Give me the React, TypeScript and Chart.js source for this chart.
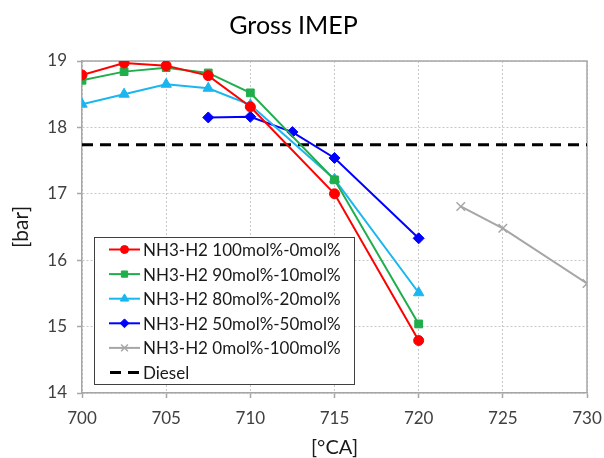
import { useEffect, useRef } from 'react';
import { Chart, registerables } from 'chart.js';
import { drawPoint } from 'chart.js/helpers';

Chart.register(...registerables);

const chartTitle = 'Gross IMEP';
const xAxisTitle = '[°CA]';
const yAxisTitle = '[bar]';
const xTickValues = [700, 705, 710, 715, 720, 725, 730];
const yTickValues = [14, 15, 16, 17, 18, 19];

const s1Label = 'NH3-H2 100mol%-0mol%';
const s1X = [700, 702.5, 705, 707.5, 710, 715, 720];
const s1Y = [18.79, 18.97, 18.93, 18.78, 18.31, 17.0, 14.79];

const s2Label = 'NH3-H2 90mol%-10mol%';
const s2X = [700, 702.5, 705, 707.5, 710, 715, 720];
const s2Y = [18.71, 18.84, 18.9, 18.82, 18.52, 17.21, 15.04];

const s3Label = 'NH3-H2 80mol%-20mol%';
const s3X = [700, 702.5, 705, 707.5, 710, 715, 720];
const s3Y = [18.35, 18.5, 18.65, 18.59, 18.34, 17.22, 15.51];

const s4Label = 'NH3-H2 50mol%-50mol%';
const s4X = [707.5, 710, 712.5, 715, 720];
const s4Y = [18.15, 18.16, 17.93, 17.54, 16.33];

const s5Label = 'NH3-H2 0mol%-100mol%';
const s5X = [722.5, 725, 730];
const s5Y = [16.81, 16.48, 15.65];

const dieselLabel = 'Diesel';
const dieselX = [700, 730];
const dieselY = [17.74, 17.74];

const FONT = 'Lato, "Open Sans", sans-serif';

const pts = (xs: number[], ys: number[]) => xs.map((x, i) => ({ x, y: ys[i] }));

const legendPlugin = {
  id: 'boxLegend',
  afterDatasetsDraw(chart: any) {
    const ctx = chart.ctx;
    const left = 94, top = 237, right = 354, bottom = 384;
    ctx.save();
    ctx.fillStyle = '#ffffff';
    ctx.fillRect(left, top, right - left, bottom - top);
    ctx.strokeStyle = '#404040';
    ctx.lineWidth = 1;
    ctx.strokeRect(left + 0.5, top + 0.5, right - left, bottom - top);
    const rowH = 24.6;
    const firstY = 249.5;
    chart.data.datasets.forEach((ds: any, i: number) => {
      const y = firstY + i * rowH;
      ctx.save();
      ctx.strokeStyle = ds.borderColor;
      ctx.lineWidth = ds.borderWidth;
      ctx.setLineDash(ds.borderDash || []);
      ctx.beginPath();
      ctx.moveTo(ds.borderDash ? 110 : 109, y);
      ctx.lineTo(140, y);
      ctx.stroke();
      ctx.restore();
      if (ds.pointRadius > 0) {
        ctx.save();
        ctx.fillStyle = ds.pointBackgroundColor;
        ctx.strokeStyle = ds.pointBorderColor;
        ctx.lineWidth = ds.pointBorderWidth;
        drawPoint(ctx, { pointStyle: ds.pointStyle, radius: ds.pointRadius * 0.8, borderWidth: ds.pointBorderWidth, rotation: 0 }, 124.5, y);
        ctx.restore();
      }
      ctx.fillStyle = '#1a1a1a';
      ctx.font = `17px ${FONT}`;
      ctx.textBaseline = 'middle';
      ctx.textAlign = 'left';
      ctx.fillText(ds.label, 143, y + 1);
    });
    ctx.restore();
  },
};

const framePlugin = {
  id: 'frame',
  beforeDatasetsDraw(chart: any) {
    const { ctx, chartArea } = chart;
    ctx.save();
    ctx.strokeStyle = '#a6a6a6';
    ctx.lineWidth = 1.5;
    ctx.beginPath();
    ctx.moveTo(chartArea.left, chartArea.top);
    ctx.lineTo(chartArea.right, chartArea.top);
    ctx.lineTo(chartArea.right, chartArea.bottom);
    ctx.stroke();
    ctx.restore();
  },
};

export default function App() {
  const ref = useRef<HTMLCanvasElement | null>(null);
  useEffect(() => {
    document.body.style.margin = '0';
    if (!ref.current) return;
    const line = (label: string, xs: number[], ys: number[], color: string, style: string, radius: number) => ({
      label,
      data: pts(xs, ys),
      borderColor: color,
      backgroundColor: color,
      borderWidth: 2,
      pointStyle: style,
      pointRadius: radius,
      pointBackgroundColor: color,
      pointBorderColor: color,
      pointBorderWidth: style === 'crossRot' ? 1.5 : 1,
      tension: 0,
    });
    const chart = new Chart(ref.current, {
      type: 'line',
      data: {
        datasets: [
          line(s1Label, s1X, s1Y, '#ff0000', 'circle', 5),
          line(s2Label, s2X, s2Y, '#1fae4b', 'rect', 5.5),
          line(s3Label, s3X, s3Y, '#1ab6f0', 'triangle', 6),
          line(s4Label, s4X, s4Y, '#0000ff', 'rectRot', 5.5),
          line(s5Label, s5X, s5Y, '#a6a6a6', 'crossRot', 6),
          {
            label: dieselLabel,
            data: pts(dieselX, dieselY),
            borderColor: '#000000',
            backgroundColor: '#000000',
            borderWidth: 3,
            borderDash: [11, 7],
            pointRadius: 0,
            pointStyle: 'line',
            pointBackgroundColor: '#000000',
            pointBorderColor: '#000000',
            pointBorderWidth: 0,
          } as any,
        ],
      },
      options: {
        animation: false,
        responsive: true,
        maintainAspectRatio: false,
        layout: { padding: { left: 0, right: 17, top: 0, bottom: 0 } },
        plugins: {
          legend: { display: false },
          tooltip: { enabled: false },
          title: {
            display: true,
            text: chartTitle,
            color: '#000000',
            font: { family: FONT, size: 25, weight: 'normal' },
            padding: { top: 11, bottom: 20 },
          },
        },
        scales: {
          x: {
            type: 'linear',
            min: 700,
            max: 730,
            afterBuildTicks: (s: any) => { s.ticks = xTickValues.map((v) => ({ value: v })); },
            afterFit: (s: any) => { s.height = 65; s.paddingLeft = 0; s.paddingRight = 0; },
            ticks: { color: '#404040', font: { family: FONT, size: 17 }, padding: 10, maxRotation: 0 },
            grid: { color: '#c8c8c8', lineWidth: 1, tickLength: 5, tickBorderDash: [], tickColor: '#a6a6a6', tickWidth: 1.5 },
            border: { color: '#a6a6a6', width: 1.5, dash: [2, 2] },
            title: { display: true, text: xAxisTitle, color: '#1a1a1a', font: { family: FONT, size: 20 }, padding: { top: 0, bottom: -2 } },
          },
          y: {
            type: 'linear',
            min: 14,
            max: 19,
            afterBuildTicks: (s: any) => { s.ticks = yTickValues.map((v) => ({ value: v })); },
            afterFit: (s: any) => { s.width = 82; s.paddingTop = 0; s.paddingBottom = 0; },
            ticks: { color: '#404040', font: { family: FONT, size: 17 }, padding: 10 },
            grid: { color: '#c8c8c8', lineWidth: 1, tickLength: 5, tickBorderDash: [], tickColor: '#a6a6a6', tickWidth: 1.5 },
            border: { color: '#a6a6a6', width: 1.5, dash: [2, 2] },
            title: { display: true, text: yAxisTitle, color: '#1a1a1a', font: { family: FONT, size: 21 }, padding: { top: 9, bottom: 0 } },
          },
        },
      },
      plugins: [framePlugin, legendPlugin],
    } as any);
    return () => chart.destroy();
  }, []);
  return (
    <div style={{ width: 604, height: 458, position: 'relative' }}>
      <canvas ref={ref} />
    </div>
  );
}
